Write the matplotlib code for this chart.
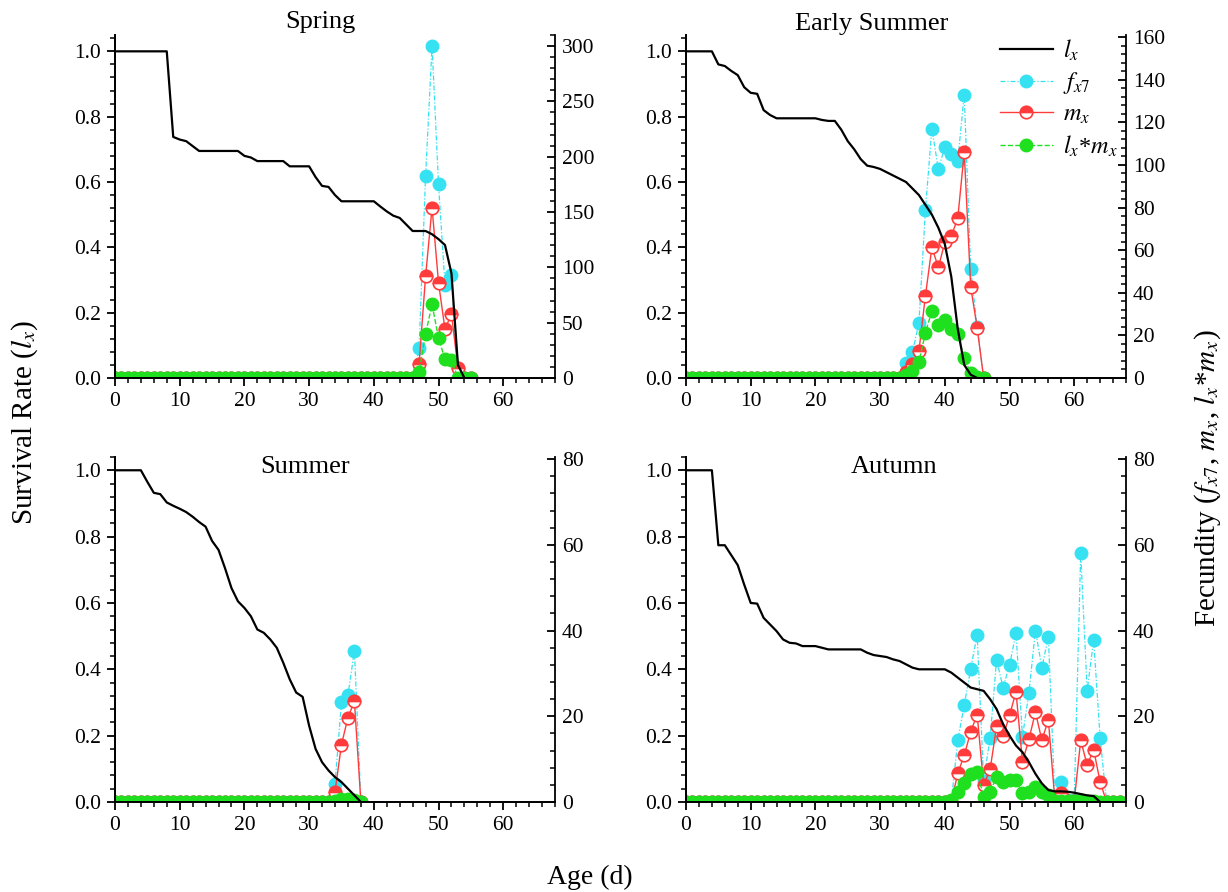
import numpy as np
import matplotlib.pyplot as plt
from matplotlib.ticker import MultipleLocator, AutoMinorLocator, FormatStrFormatter

plt.rcParams['font.family'] = ['Liberation Serif', 'DejaVu Serif']
plt.rcParams['mathtext.fontset'] = 'stix'

# ---- values (one value per day of age) ----
spring_lx = [1.0, 1.0, 1.0, 1.0, 1.0, 1.0, 1.0, 1.0, 1.0, 0.738,
             0.73, 0.725, 0.71, 0.695, 0.695, 0.695, 0.695, 0.695, 0.695, 0.695,
             0.68, 0.675, 0.664, 0.664, 0.664, 0.664, 0.664, 0.648, 0.648, 0.648,
             0.648, 0.615, 0.588, 0.585, 0.56, 0.541, 0.541, 0.541, 0.541, 0.541,
             0.541, 0.525, 0.51, 0.497, 0.49, 0.47, 0.45, 0.45, 0.45, 0.44,
             0.425, 0.407, 0.32, 0.04, 0.0]
spring_fx7 = [0, 0, 0, 0, 0, 0, 0, 0, 0, 0,
              0, 0, 0, 0, 0, 0, 0, 0, 0, 0,
              0, 0, 0, 0, 0, 0, 0, 0, 0, 0,
              0, 0, 0, 0, 0, 0, 0, 0, 0, 0,
              0, 0, 0, 0, 0, 0, 0, 27, 183, 300,
              175, 84, 93, 0, 0, 0]
spring_mx = [0, 0, 0, 0, 0, 0, 0, 0, 0, 0,
             0, 0, 0, 0, 0, 0, 0, 0, 0, 0,
             0, 0, 0, 0, 0, 0, 0, 0, 0, 0,
             0, 0, 0, 0, 0, 0, 0, 0, 0, 0,
             0, 0, 0, 0, 0, 0, 0, 13, 92, 154,
             86, 44, 58, 9, 0, 0]
spring_lxmx = [0, 0, 0, 0, 0, 0, 0, 0, 0, 0,
               0, 0, 0, 0, 0, 0, 0, 0, 0, 0,
               0, 0, 0, 0, 0, 0, 0, 0, 0, 0,
               0, 0, 0, 0, 0, 0, 0, 0, 0, 0,
               0, 0, 0, 0, 0, 0, 0, 5.7, 40, 66.5,
               36, 17, 16, 0.4, 0, 0]

esummer_lx = [1.0, 1.0, 1.0, 1.0, 1.0, 0.96, 0.955, 0.94, 0.927, 0.89,
              0.873, 0.87, 0.82, 0.805, 0.795, 0.795, 0.795, 0.795, 0.795, 0.795,
              0.795, 0.79, 0.787, 0.787, 0.76, 0.725, 0.7, 0.67, 0.65, 0.646,
              0.64, 0.63, 0.62, 0.61, 0.6, 0.58, 0.56, 0.53, 0.5, 0.46,
              0.41, 0.31, 0.15, 0.04, 0.01, 0.0]
esummer_fx7 = [0, 0, 0, 0, 0, 0, 0, 0, 0, 0,
               0, 0, 0, 0, 0, 0, 0, 0, 0, 0,
               0, 0, 0, 0, 0, 0, 0, 0, 0, 0,
               0, 0, 0, 0, 6.9, 12, 26, 79, 117, 98,
               108.5, 105, 102, 133, 51, 24, 0]
esummer_mx = [0, 0, 0, 0, 0, 0, 0, 0, 0, 0,
              0, 0, 0, 0, 0, 0, 0, 0, 0, 0,
              0, 0, 0, 0, 0, 0, 0, 0, 0, 0,
              0, 0, 0, 0, 3, 6.5, 12.7, 38.6, 61.3, 51.9,
              63.7, 66.6, 75, 106, 42.8, 23.6, 0]
esummer_lxmx = [0, 0, 0, 0, 0, 0, 0, 0, 0, 0,
                0, 0, 0, 0, 0, 0, 0, 0, 0, 0,
                0, 0, 0, 0, 0, 0, 0, 0, 0, 0,
                0, 0, 0, 0, 1.5, 3.5, 7.5, 21.3, 31.4, 24.9,
                27.2, 22.8, 20.6, 9.5, 2.2, 0.4, 0]

summer_lx = [1.0, 1.0, 1.0, 1.0, 1.0, 0.965, 0.932, 0.928, 0.903, 0.893,
             0.884, 0.874, 0.86, 0.844, 0.83, 0.787, 0.76, 0.705, 0.645, 0.605,
             0.585, 0.56, 0.52, 0.51, 0.49, 0.465, 0.42, 0.37, 0.33, 0.317,
             0.23, 0.16, 0.12, 0.095, 0.075, 0.06, 0.04, 0.02, 0.0]
summer_fx7 = [0, 0, 0, 0, 0, 0, 0, 0, 0, 0,
              0, 0, 0, 0, 0, 0, 0, 0, 0, 0,
              0, 0, 0, 0, 0, 0, 0, 0, 0, 0,
              0, 0, 0, 0, 4.1, 23.3, 24.9, 35.3, 0]
summer_mx = [0, 0, 0, 0, 0, 0, 0, 0, 0, 0,
             0, 0, 0, 0, 0, 0, 0, 0, 0, 0,
             0, 0, 0, 0, 0, 0, 0, 0, 0, 0,
             0, 0, 0, 0, 2.4, 13.4, 19.7, 23.5, 0]
summer_lxmx = [0, 0, 0, 0, 0, 0, 0, 0, 0, 0,
               0, 0, 0, 0, 0, 0, 0, 0, 0, 0,
               0, 0, 0, 0, 0, 0, 0, 0, 0, 0,
               0, 0, 0, 0, 0.2, 0.8, 0.8, 0.5, 0]

autumn_lx = [1.0, 1.0, 1.0, 1.0, 1.0, 0.774, 0.774, 0.744, 0.714, 0.655,
             0.6, 0.598, 0.555, 0.535, 0.515, 0.49, 0.48, 0.478, 0.47, 0.47,
             0.47, 0.465, 0.46, 0.46, 0.46, 0.46, 0.46, 0.46, 0.45, 0.443,
             0.44, 0.437, 0.43, 0.425, 0.415, 0.405, 0.4, 0.4, 0.4, 0.4,
             0.4, 0.39, 0.375, 0.36, 0.345, 0.34, 0.335, 0.31, 0.28, 0.235,
             0.2, 0.17, 0.15, 0.12, 0.085, 0.056, 0.036, 0.032, 0.032, 0.031,
             0.028, 0.024, 0.02, 0.018, 0.0]
autumn_fx7 = [0, 0, 0, 0, 0, 0, 0, 0, 0, 0,
              0, 0, 0, 0, 0, 0, 0, 0, 0, 0,
              0, 0, 0, 0, 0, 0, 0, 0, 0, 0,
              0, 0, 0, 0, 0, 0, 0, 0, 0, 0,
              0, 0, 14.4, 22.6, 31.1, 39, 5, 15, 33.2, 26.7,
              31.9, 39.5, 15.2, 25.5, 40, 31.3, 38.6, 1, 4.7, 0.5,
              0.5, 58, 26, 37.8, 15, 0, 0, 0]
autumn_mx = [0, 0, 0, 0, 0, 0, 0, 0, 0, 0,
             0, 0, 0, 0, 0, 0, 0, 0, 0, 0,
             0, 0, 0, 0, 0, 0, 0, 0, 0, 0,
             0, 0, 0, 0, 0, 0, 0, 0, 0, 0,
             0, 0, 6.7, 10.9, 16.4, 20.4, 4, 7.6, 17.7, 15.3,
             20.2, 25.7, 9.4, 14.6, 21, 14.4, 19.2, 0.5, 2.2, 0.3,
             0.3, 14.4, 8.6, 12.2, 4.7, 0, 0, 0]
autumn_lxmx = [0, 0, 0, 0, 0, 0, 0, 0, 0, 0,
               0, 0, 0, 0, 0, 0, 0, 0, 0, 0,
               0, 0, 0, 0, 0, 0, 0, 0, 0, 0,
               0, 0, 0, 0, 0, 0, 0, 0, 0, 0,
               0, 0.5, 2.4, 4.5, 6.5, 7, 1.2, 2.4, 5.9, 4.7,
               5.1, 5.1, 2, 2.4, 3.4, 2.4, 1.6, 0.3, 0.3, 0.2,
               0.2, 0.4, 0.3, 0.3, 0.1, 0, 0, 0]

titles = ['Spring', 'Early Summer', 'Summer', 'Autumn']
right_max = [310, 161, 80.5, 80.5]
right_step = [50, 20, 20, 20]

cyan = '#36E2F2'
red = '#FF3B3B'
green = '#1FE01F'

W, H = 1228, 892
fig = plt.figure(figsize=(W / 100, H / 100), dpi=100)


def px_axes(left, top, right, bottom):
    return fig.add_axes([left / W, 1 - bottom / H, (right - left) / W, (bottom - top) / H])


def draw_panel(box, lx, fx7, mx, lxmx, rmax, rstep, lmax):
    ax = px_axes(*box)
    ax2 = ax.twinx()

    days = np.arange(len(fx7))
    h1 = ax2.plot(days, fx7, color=cyan, ls=(0, (4, 1.5, 1, 1.5)), lw=0.9,
                  marker='o', ms=9, mfc=cyan, mec=cyan, label=r'$f_{x7}$')
    h2 = ax2.plot(days, mx, color=red, lw=1.0, marker='o', ms=9, fillstyle='top',
                  mfc=red, markerfacecoloralt='white', mec=red, mew=1.2, label=r'$m_x$')
    h3 = ax2.plot(days, lxmx, color=green, ls='--', lw=1.0, marker='o', ms=9,
                  mfc=green, mec=green, label=r'$l_x$*$m_x$')
    h0 = ax.plot(np.arange(len(lx)), lx, color='black', lw=1.6, label=r'$l_x$')

    # survival line drawn above the fecundity markers
    ax.set_zorder(ax2.get_zorder() + 1)
    ax.patch.set_visible(False)

    ax.set_xlim(0, 68)
    ax.set_ylim(0, lmax)
    ax2.set_ylim(0, rmax)
    ax.xaxis.set_major_locator(MultipleLocator(10))
    ax.xaxis.set_minor_locator(AutoMinorLocator(5))
    ax.yaxis.set_major_locator(MultipleLocator(0.2))
    ax.yaxis.set_minor_locator(AutoMinorLocator(5))
    ax.yaxis.set_major_formatter(FormatStrFormatter('%.1f'))
    ax2.yaxis.set_major_locator(MultipleLocator(rstep))
    ax2.yaxis.set_minor_locator(AutoMinorLocator(5))

    for a in (ax, ax2):
        a.spines['top'].set_visible(False)
        for s in a.spines.values():
            s.set_linewidth(1.3)
    ax.spines['right'].set_visible(False)
    ax.tick_params(axis='both', which='major', direction='out', length=6, width=1.3,
                   labelsize=15.5, pad=4)
    ax.tick_params(axis='both', which='minor', direction='out', length=3.5, width=1.1)
    ax2.tick_params(axis='y', which='major', direction='in', length=6, width=1.3,
                    labelsize=15.5, pad=5)
    ax2.tick_params(axis='y', which='minor', direction='in', length=3.5, width=1.1)
    return ax, [h0[0], h1[0], h2[0], h3[0]]


ax_sp, handles = draw_panel((115, 35, 555, 378), spring_lx, spring_fx7, spring_mx,
                            spring_lxmx, right_max[0], right_step[0], 1.05)
ax_es, _ = draw_panel((686, 35, 1126, 378), esummer_lx, esummer_fx7, esummer_mx,
                      esummer_lxmx, right_max[1], right_step[1], 1.05)
ax_su, _ = draw_panel((115, 457, 555, 802), summer_lx, summer_fx7, summer_mx,
                      summer_lxmx, right_max[2], right_step[2], 1.04)
ax_au, _ = draw_panel((686, 457, 1126, 802), autumn_lx, autumn_fx7, autumn_mx,
                      autumn_lxmx, right_max[3], right_step[3], 1.04)

# panel titles
for t, (x, y) in zip(titles, [(320, 22), (872, 24), (305, 467), (894, 467)]):
    fig.text(x / W, 1 - y / H, t, fontsize=19, ha='center', va='center')

leg = ax_es.legend(handles=handles, loc='upper left', frameon=False, fontsize=17.5,
                   bbox_to_anchor=(990 / W, 1 - 28 / H), bbox_transform=fig.transFigure,
                   handlelength=2.2, labelspacing=0.3, handletextpad=0.4, borderaxespad=0)

fig.text(25 / W, 1 - 422 / H, r'Survival Rate ($l_x$)', fontsize=21, rotation=90,
         ha='center', va='center')
fig.text(1208 / W, 1 - 478 / H, r'Fecundity ($f_{x7}$, $m_x$, $l_x$*$m_x$)', fontsize=21,
         rotation=90, ha='center', va='center')
fig.text(590 / W, 1 - 877 / H, 'Age (d)', fontsize=20, ha='center', va='center')

fig.savefig('out.png', dpi=100)
